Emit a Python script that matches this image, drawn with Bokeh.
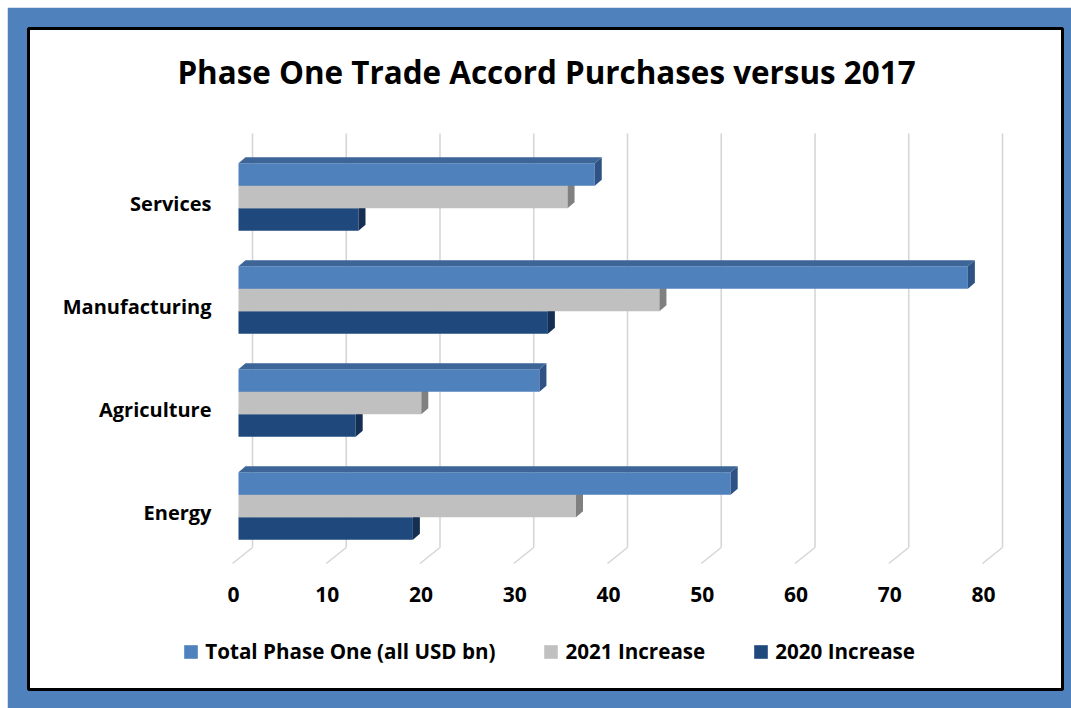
from bokeh.plotting import figure
from bokeh.models import Range1d, Legend, LegendItem
from bokeh.core.properties import value
from bokeh.embed import file_html
from bokeh.resources import INLINE

# ---------------- data ----------------
categories = ["Services", "Manufacturing", "Agriculture", "Energy"]   # top -> bottom
series_names = ["Total Phase One (all USD bn)", "2021 Increase", "2020 Increase"]
total_phase_one = [38.0, 77.8, 32.1, 52.5]
increase_2021 = [35.1, 44.9, 19.5, 36.0]
increase_2020 = [12.8, 33.0, 12.5, 18.6]
x_ticks = [0, 10, 20, 30, 40, 50, 60, 70, 80]
x_tick_labels = [str(t) for t in x_ticks]
title_text = "Phase One Trade Accord Purchases versus 2017"

# ---------------- layout constants (page pixels) ----------------
FONT = "Open Sans"
BLUE = "#4F81BD"
PAGE_OFF = 7                          # figure placed 7px from page top/left
W, H = 1071 - PAGE_OFF, 708 - PAGE_OFF
FR_L, FR_R, FR_T, FR_B = 28, 1062, 28, 689   # white inner box (page px)
PX_X = 9.375          # px per unit on the value axis
PX_Y = 103.0          # px per category step
X0_PX = 238.0         # page x of value 0 (bar front face)
Y0_PX = 505.5         # page y of centre of the bottom category group


def xd(px):
    return (px - X0_PX) / PX_X


def yd(py):
    return (Y0_PX - py) / PX_Y


BAR_H = 22.5 / PX_Y
DX = 7.0 / PX_X       # 3-D depth offset of the bars
DY = 6.0 / PX_Y

p = figure(width=W, height=H, output_backend="svg", toolbar_location=None,
           x_range=Range1d(xd(FR_L), xd(FR_R)),
           y_range=Range1d(yd(FR_B), yd(FR_T)),
           x_axis_location=None, y_axis_location=None,
           min_border_left=FR_L - PAGE_OFF, min_border_right=1071 - FR_R,
           min_border_top=FR_T - PAGE_OFF, min_border_bottom=708 - FR_B)
p.margin = (PAGE_OFF, 0, 0, PAGE_OFF)
p.xgrid.visible = False
p.ygrid.visible = False
p.background_fill_color = "white"
p.border_fill_color = BLUE
p.outline_line_color = "black"
p.outline_line_width = 3
p.outline_line_alpha = 1

# ---------------- title ----------------
p.text(x=[xd(546)], y=[yd(71)], text=[title_text], text_font=value(FONT),
       text_font_size="31.4px", text_font_style="bold", text_color="black",
       text_align="center", text_baseline="middle")

# ---------------- back wall + floor grid lines ----------------
n = len(x_ticks)
gx_back = [t + 14.0 / PX_X for t in x_ticks]
gx_front = [t - 6.0 / PX_X for t in x_ticks]
p.segment(x0=gx_back, y0=[yd(133)] * n, x1=gx_back, y1=[yd(547)] * n,
          line_color="#D6D6D6", line_width=1.6)
p.segment(x0=gx_back, y0=[yd(547)] * n, x1=gx_front, y1=[yd(563)] * n,
          line_color="#D6D6D6", line_width=1.6)

# ---------------- 3-D bars ----------------
pos = [len(categories) - 1 - i for i in range(len(categories))]
series = [
    # values, slot, front, top, side
    (increase_2020, -1, "#1F497D", "#1A3E6B", "#142F52"),
    (increase_2021, 0, "#C0C0C0", "#A8A8A8", "#808080"),
    (total_phase_one, 1, "#4F81BD", "#3D6598", "#2E5283"),
]
front = {}
for vals, k, c_front, c_top, c_side in series:
    yc = [y + k * BAR_H for y in pos]
    top = [y + BAR_H / 2 for y in yc]
    bot = [y - BAR_H / 2 for y in yc]
    front[k] = p.quad(left=[0] * len(vals), right=vals, top=top, bottom=bot,
                      fill_color=c_front, line_color=None)
    p.patches(xs=[[v, v + DX, v + DX, v] for v in vals],
              ys=[[b, b + DY, t + DY, t] for b, t in zip(bot, top)],
              fill_color=c_side, line_color=None)
    p.patches(xs=[[0, DX, v + DX, v] for v in vals],
              ys=[[t, t + DY, t + DY, t] for t in top],
              fill_color=c_top, line_color=None)

# ---------------- category labels and value tick labels ----------------
p.text(x=[xd(211)] * len(categories), y=[y + yd(512) for y in pos], text=categories,
       text_font=value(FONT), text_font_size="20px", text_font_style="bold",
       text_color="black", text_align="right", text_baseline="middle")
p.text(x=[t + xd(233) for t in x_ticks], y=[yd(594)] * n, text=x_tick_labels,
       text_font=value(FONT), text_font_size="21px", text_font_style="bold",
       text_color="black", text_align="center", text_baseline="middle")

# ---------------- legend ----------------
legend = Legend(items=[LegendItem(label=series_names[0], renderers=[front[1]]),
                       LegendItem(label=series_names[1], renderers=[front[0]]),
                       LegendItem(label=series_names[2], renderers=[front[-1]])],
                orientation="horizontal", location=(182.3 - FR_L, 24))
legend.padding = 0
legend.margin = 0
legend.spacing = 47
legend.label_standoff = 6
legend.glyph_width = 17
legend.glyph_height = 17
legend.border_line_color = None
legend.background_fill_alpha = 0
legend.label_text_font = FONT
legend.label_text_font_size = "20.6px"
legend.label_text_font_style = "bold"
legend.label_text_color = "black"
p.add_layout(legend, "center")

open("out.html", "w").write(file_html(p, INLINE))
